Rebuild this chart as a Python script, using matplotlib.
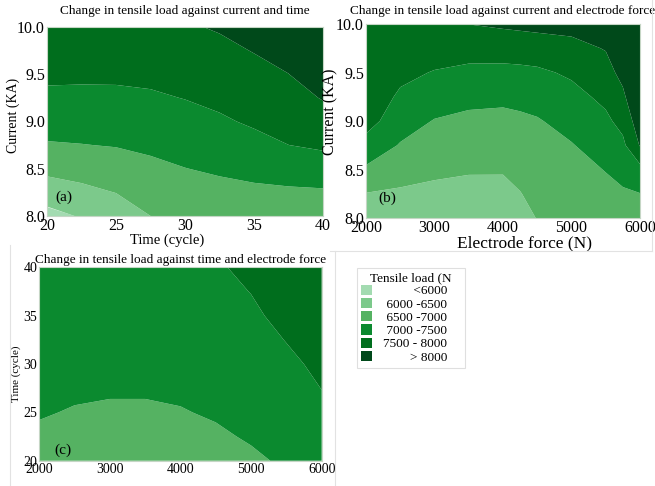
import numpy as np
import matplotlib
matplotlib.use("Agg")
import matplotlib.pyplot as plt
from matplotlib.patches import Patch
from matplotlib.lines import Line2D

plt.rcParams["font.family"] = ["Liberation Serif", "DejaVu Serif"]

# contour bands (tensile load, N)
levels = [5000, 6000, 6500, 7000, 7500, 8000, 10000]
fill_colors = ["#a3dbb1", "#7cc98b", "#55b262", "#0b8a2f", "#006e1d", "#00491a"]
legend_labels = ["         <6000    ", " 6000 -6500    ", " 6500 -7000    ",
                 " 7000 -7500    ", "7500 - 8000    ", "        > 8000    "]

# (a) current vs time -- one row per time value
time_a = [20, 22.5, 25, 27.5, 30, 32.5, 35, 37.5, 40]
current_a = [8.0, 8.25, 8.5, 8.75, 9.0, 9.25, 9.5, 9.75, 10.0]
load_a = [
    [5839, 6242, 6622, 6959, 7200, 7427, 7567, 7665, 7764],
    [6041, 6378, 6690, 6988, 7203, 7415, 7565, 7674, 7783],
    [6188, 6510, 6771, 7023, 7219, 7414, 7571, 7697, 7823],
    [6500, 6699, 6897, 7086, 7264, 7443, 7598, 7742, 7885],
    [6613, 6803, 6992, 7167, 7340, 7512, 7659, 7806, 7953],
    [6682, 6871, 7061, 7250, 7440, 7600, 7747, 7894, 8041],
    [6712, 6912, 7130, 7361, 7561, 7714, 7866, 8018, 8171],
    [6720, 6932, 7202, 7498, 7667, 7833, 7995, 8167, 8333],
    [6721, 6946, 7264, 7573, 7800, 8027, 8255, 8482, 8709],
]

# (b) current vs electrode force -- one row per force value
force_b = [2000, 2500, 3000, 3500, 4000, 4250, 4500, 5000, 5500, 5750, 6000]
current_b = [8.0, 8.25, 8.5, 8.75, 9.0, 9.25, 9.5, 9.75, 10.0]
load_b = [
    [6100, 6482, 6929, 7318, 7697, 7740, 7780, 7820, 7860],
    [6128, 6428, 6702, 6968, 7207, 7443, 7587, 7702, 7817],
    [6158, 6383, 6592, 6785, 6977, 7224, 7480, 7669, 7853],
    [6148, 6348, 6543, 6721, 6900, 7120, 7391, 7688, 8005],
    [6148, 6348, 6541, 6712, 6884, 7091, 7375, 7706, 8074],
    [6284, 6484, 6632, 6776, 6920, 7120, 7391, 7727, 8106],
    [6522, 6633, 6743, 6854, 6965, 7170, 7420, 7758, 8136],
    [6600, 6725, 6850, 6975, 7156, 7352, 7570, 7860, 8151],
    [6760, 6885, 7016, 7211, 7406, 7608, 7817, 8025, 8233],
    [6820, 6945, 7143, 7398, 7650, 7900, 8150, 8400, 8650],
    [6865, 6990, 7348, 8030, 8280, 8530, 8780, 9030, 9280],
]

# (c) time vs electrode force -- one row per force value
force_c = [2000, 2500, 3000, 3500, 4000, 4500, 5000, 5500, 6000]
time_c = [20, 22.5, 25, 27.5, 30, 32.5, 35, 37.5, 40]
load_c = [
    [6790, 6935, 7030, 7060, 7081, 7116, 7151, 7186, 7221],
    [6725, 6850, 6975, 7060, 7076, 7119, 7161, 7203, 7246],
    [6675, 6800, 6925, 7060, 7075, 7128, 7181, 7234, 7288],
    [6675, 6800, 6925, 7060, 7090, 7154, 7218, 7282, 7346],
    [6730, 6855, 6980, 7060, 7131, 7202, 7273, 7344, 7415],
    [6820, 6945, 7039, 7109, 7179, 7248, 7318, 7388, 7458],
    [6935, 7038, 7116, 7195, 7273, 7352, 7431, 7509, 7584],
    [7055, 7146, 7237, 7328, 7420, 7512, 7612, 7712, 7812],
    [7177, 7287, 7398, 7506, 7581, 7656, 7731, 7806, 7881],
]


def panel(ax, x, y, z, title, letter, letter_xy, tick_fs, title_pad):
    ax.contourf(x, y, np.array(z).T, levels=levels, colors=fill_colors, antialiased=True)
    ax.set_title(title, fontsize=9.5, pad=title_pad)
    ax.tick_params(length=0, labelsize=tick_fs, pad=1.5)
    for s in ax.spines.values():
        s.set_color("#c5d6c5"); s.set_linewidth(0.8)
    ax.text(letter_xy[0], letter_xy[1], letter, fontsize=11, va="center")


fig = plt.figure(figsize=(6.55, 4.86), dpi=100)

# faint borders of the pasted sub-images
for xs, ys in [((10, 10), (245, 486)), ((335, 335), (251, 486)),
               ((330, 652), (251, 251)), ((652, 652), (0, 251))]:
    fig.add_artist(Line2D([v / 655 for v in xs], [1 - v / 486 for v in ys],
                          color="#e2e2e2", lw=0.8))

ax_a = fig.add_axes([0.0718, 0.5556, 0.4214, 0.3889])
panel(ax_a, time_a, current_a, load_a, "Change in tensile load against current and time",
      "(a)", (20.6, 8.2), 11.5, 9)
ax_a.set_xticks([20, 25, 30, 35, 40]); ax_a.set_yticks([8.0, 8.5, 9.0, 9.5, 10.0])
ax_a.set_xlabel("Time (cycle)", fontsize=10.5)
ax_a.xaxis.set_label_coords(0.435, -0.092)
ax_a.set_ylabel("Current (KA)", fontsize=10)
ax_a.yaxis.set_label_coords(-0.098, 0.53)

ax_b = fig.add_axes([0.5588, 0.5514, 0.4183, 0.3992])
panel(ax_b, force_b, current_b, load_b, "Change in tensile load against current and electrode force",
      "(b)", (2180, 8.2), 11.5, 7)
ax_b.set_xticks([2000, 3000, 4000, 5000, 6000]); ax_b.set_yticks([8.0, 8.5, 9.0, 9.5, 10.0])
ax_b.set_xlabel("Electrode force (N)", fontsize=12.5)
ax_b.xaxis.set_label_coords(0.58, -0.09)
ax_b.set_ylabel("Current (KA)", fontsize=11.5)
ax_b.yaxis.set_label_coords(-0.1, 0.55)

ax_c = fig.add_axes([0.060, 0.052, 0.4311, 0.398])
panel(ax_c, force_c, time_c, load_c, "Change in tensile load against time and electrode force",
      "(c)", (2220, 21.1), 10, 3)
ax_c.set_xticks([2000, 3000, 4000, 5000, 6000]); ax_c.set_yticks([20, 25, 30, 35, 40])
ax_c.set_ylabel("Time (cycle)", fontsize=8)
ax_c.yaxis.set_label_coords(-0.064, 0.45)

handles = [Patch(facecolor=c, edgecolor="none") for c in fill_colors]
leg = fig.legend(handles, legend_labels, title="Tensile load (N",
                 loc="upper left", bbox_to_anchor=(357 / 655, 1 - 268 / 486),
                 fontsize=9.5, title_fontsize=9.5, frameon=True, fancybox=False,
                 handlelength=0.8, handleheight=0.8, handletextpad=0.9,
                 labelspacing=0.05, borderpad=0.3, borderaxespad=0)
leg.get_frame().set_edgecolor("#d8d8d8"); leg.get_frame().set_linewidth(0.8)

fig.savefig("out.png", dpi=100)
